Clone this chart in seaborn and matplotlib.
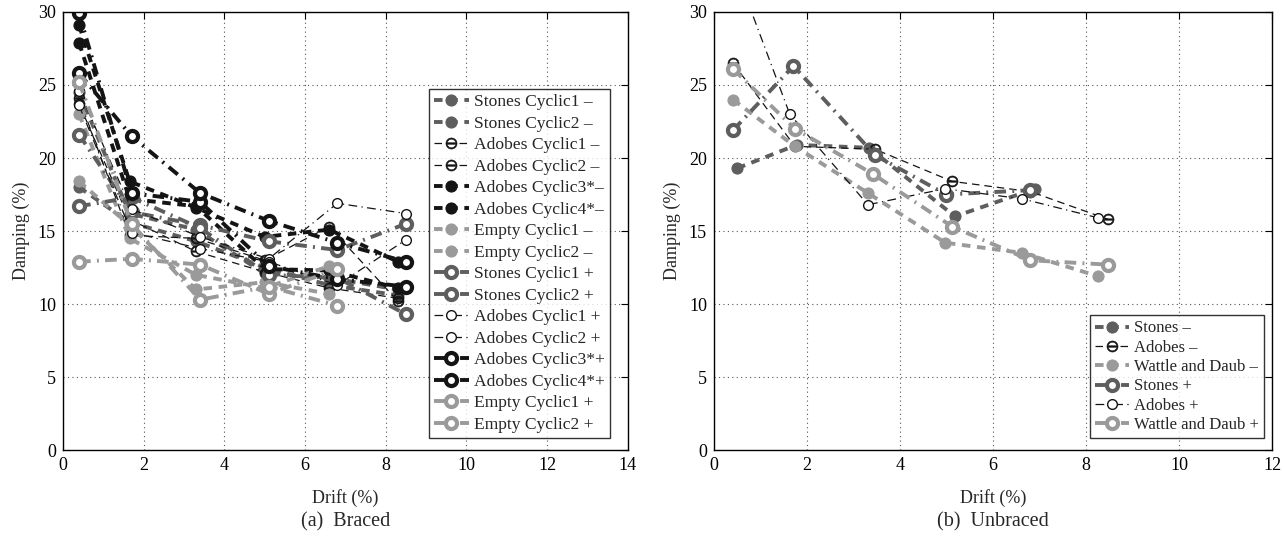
import matplotlib
matplotlib.use("Agg")
import matplotlib.pyplot as plt
import seaborn as sns
import numpy as np

sns.set_theme(style="white")
plt.rcParams['font.family'] = ['Liberation Serif', 'DejaVu Serif']
plt.rcParams['mathtext.fontset'] = 'dejavusans'

# ---------------- data: braced (left) ----------------
x_minus = [0.4, 1.65, 3.3, 5.0, 6.6, 8.3]
x_plus = [0.4, 1.7, 3.4, 5.1, 6.8, 8.5]
x_empty_minus = [0.4, 1.65, 3.3, 5.0, 6.6]
x_empty_plus = [0.4, 1.7, 3.4, 5.1, 6.8]

braced_names = [
    "Stones Cyclic1 \u2013", "Stones Cyclic2 \u2013",
    "Adobes Cyclic1 \u2013", "Adobes Cyclic2 \u2013",
    "Adobes Cyclic3*\u2013", "Adobes Cyclic4*\u2013",
    "Empty Cyclic1 \u2013", "Empty Cyclic2 \u2013",
    "Stones Cyclic1 +", "Stones Cyclic2 +",
    "Adobes Cyclic1 +", "Adobes Cyclic2 +",
    "Adobes Cyclic3*+", "Adobes Cyclic4*+",
    "Empty Cyclic1 +", "Empty Cyclic2 +",
]
stones_c1_minus = [24.5, 16.2, 15.1, 12.1, 11.8, 11.0]
stones_c2_minus = [18.0, 15.6, 14.3, 12.5, 11.3, 10.6]
adobes_c1_minus = [24.1, 14.7, 14.5, 13.0, 15.3, 10.2]
adobes_c2_minus = [23.7, 15.8, 13.6, 12.2, 11.1, 10.4]
adobes_c3_minus = [29.1, 18.4, 16.6, 14.6, 15.1, 12.9]
adobes_c4_minus = [27.9, 17.2, 16.7, 12.4, 12.3, 11.1]
empty_c1_minus = [18.4, 15.4, 11.0, 11.5, 10.7]
empty_c2_minus = [23.0, 14.5, 12.0, 11.1, 12.6]
stones_c1_plus = [21.6, 16.3, 15.4, 14.3, 13.7, 15.5]
stones_c2_plus = [16.7, 17.3, 15.2, 12.0, 11.8, 9.3]
adobes_c1_plus = [24.6, 16.5, 14.6, 13.1, 16.9, 16.2]
adobes_c2_plus = [23.6, 14.9, 13.8, 12.9, 11.3, 14.4]
adobes_c3_plus = [29.9, 17.6, 17.0, 12.6, 11.7, 11.2]
adobes_c4_plus = [25.8, 21.5, 17.6, 15.7, 14.2, 12.9]
empty_c1_plus = [12.9, 13.1, 12.7, 10.7, 12.4]
empty_c2_plus = [25.2, 15.5, 10.3, 11.2, 9.9]

# ---------------- data: unbraced (right) ----------------
unbraced_names = ["Stones \u2013", "Adobes \u2013", "Wattle and Daub \u2013",
                  "Stones +", "Adobes +", "Wattle and Daub +"]
ub_stones_minus_x = [0.5, 1.78, 3.33, 5.18, 6.9]
ub_stones_minus = [19.3, 20.9, 20.7, 16.0, 17.9]
ub_adobes_minus_x = [0.41, 1.74, 3.46, 5.12, 6.8, 8.47]
ub_adobes_minus = [26.5, 20.8, 20.6, 18.4, 17.7, 15.8]
ub_wattle_minus_x = [0.41, 1.74, 3.31, 4.97, 6.63, 8.26]
ub_wattle_minus = [24.0, 20.8, 17.6, 14.2, 13.5, 11.9]
ub_stones_plus_x = [0.41, 1.71, 3.46, 4.99, 6.8]
ub_stones_plus = [21.9, 26.3, 20.2, 17.5, 17.8]
ub_adobes_plus_x = [0.41, 1.63, 3.31, 4.97, 6.63, 8.26]
ub_adobes_plus = [33.4, 23.0, 16.8, 17.9, 17.2, 15.9]
ub_wattle_plus_x = [0.41, 1.74, 3.42, 5.12, 6.8, 8.47]
ub_wattle_plus = [26.1, 22.0, 18.9, 15.3, 13.0, 12.7]

DG = "#5e5e5e"
BK = "#141414"
LG = "#9a9a9a"

DASH = (2.2, 1.7)
DASHDOT = (3.0, 1.6, 0.5, 1.6)
THIN_DASH = (6.0, 4.0)
THIN_DASHDOT = (7.0, 3.5, 1.0, 3.5)


def style(kind):
    color, thick, minus, ring = kind
    st = dict(color=color)
    if thick:
        st.update(linewidth=2.8, dashes=DASH if minus else DASHDOT)
    else:
        st.update(linewidth=0.9, dashes=THIN_DASH if minus else THIN_DASHDOT)
    if thick and minus:
        st.update(marker="o", markersize=8, markerfacecolor=color,
                  markeredgecolor=color)
    elif thick:
        st.update(marker="o", markersize=8, markerfacecolor="white",
                  markeredgecolor=color, markeredgewidth=3.0)
    elif minus:
        st.update(marker=r"$\ominus$", markersize=8, markeredgewidth=0.4,
                  markerfacecolor=color, markeredgecolor=color)
    else:
        st.update(marker="o", markersize=7, markerfacecolor="white",
                  markeredgecolor=color, markeredgewidth=1.0)
    return st


def draw(ax, x, y, label, kind):
    st = style(kind)
    dashes = st.pop("dashes")
    sns.lineplot(x=x, y=y, ax=ax, sort=False, estimator=None, legend=False, **st)
    line = ax.lines[-1]
    line.set_dashes(dashes)
    line.set_label(label)
    line.set_clip_on(True)


fig = plt.figure(figsize=(12.84, 5.43), dpi=100)
axL = fig.add_axes([0.049, 0.171, 0.440, 0.807])
axR = fig.add_axes([0.556, 0.171, 0.435, 0.807])

braced = [
    (x_minus, stones_c1_minus, (DG, True, True, False)),
    (x_minus, stones_c2_minus, (DG, True, True, False)),
    (x_minus, adobes_c1_minus, (BK, False, True, False)),
    (x_minus, adobes_c2_minus, (BK, False, True, False)),
    (x_minus, adobes_c3_minus, (BK, True, True, False)),
    (x_minus, adobes_c4_minus, (BK, True, True, False)),
    (x_empty_minus, empty_c1_minus, (LG, True, True, False)),
    (x_empty_minus, empty_c2_minus, (LG, True, True, False)),
    (x_plus, stones_c1_plus, (DG, True, False, True)),
    (x_plus, stones_c2_plus, (DG, True, False, True)),
    (x_plus, adobes_c1_plus, (BK, False, False, True)),
    (x_plus, adobes_c2_plus, (BK, False, False, True)),
    (x_plus, adobes_c3_plus, (BK, True, False, True)),
    (x_plus, adobes_c4_plus, (BK, True, False, True)),
    (x_empty_plus, empty_c1_plus, (LG, True, False, True)),
    (x_empty_plus, empty_c2_plus, (LG, True, False, True)),
]
for (x, y, kind), name in zip(braced, braced_names):
    draw(axL, x, y, name, kind)

unbraced = [
    (ub_stones_minus_x, ub_stones_minus, (DG, True, True, False)),
    (ub_adobes_minus_x, ub_adobes_minus, (BK, False, True, False)),
    (ub_wattle_minus_x, ub_wattle_minus, (LG, True, True, False)),
    (ub_stones_plus_x, ub_stones_plus, (DG, True, False, True)),
    (ub_adobes_plus_x, ub_adobes_plus, (BK, False, False, True)),
    (ub_wattle_plus_x, ub_wattle_plus, (LG, True, False, True)),
]
for (x, y, kind), name in zip(unbraced, unbraced_names):
    draw(axR, x, y, name, kind)

for ax, xmax, cap in [(axL, 14, "(a)  Braced"), (axR, 12, "(b)  Unbraced")]:
    ax.set_xlim(0, xmax)
    ax.set_ylim(0, 30)
    ax.set_xticks(np.arange(0, xmax + 1, 2))
    ax.set_yticks(np.arange(0, 31, 5))
    ax.grid(True, linestyle=(0, (1, 3)), color="#555555", linewidth=0.8)
    ax.tick_params(direction="in", top=True, right=True, length=5,
                   labelsize=13, colors="black", width=0.8, pad=5)
    for s in ax.spines.values():
        s.set_color("black")
        s.set_linewidth(1.0)
    ax.set_xlabel("Drift (%)", fontsize=13, labelpad=11)
    ax.set_ylabel("Damping (%)", fontsize=13, labelpad=6)
    ax.text(0.5, -0.163, cap, transform=ax.transAxes, ha="center", va="center",
            fontsize=14.5)

legL = axL.legend(loc="lower right", bbox_to_anchor=(0.975, 0.02), fontsize=12.6,
                  frameon=True, fancybox=False, edgecolor="black",
                  handlelength=2.0, handletextpad=0.3, labelspacing=0.3,
                  borderpad=0.3, borderaxespad=0.2)
legL.get_frame().set_linewidth(1.0)
legR = axR.legend(loc="lower right", bbox_to_anchor=(0.99, 0.02), fontsize=12,
                  frameon=True, fancybox=False, edgecolor="black",
                  handlelength=2.0, handletextpad=0.3, labelspacing=0.2,
                  borderpad=0.3, borderaxespad=0.2)
legR.get_frame().set_linewidth(1.0)

fig.savefig("out.png", dpi=100, facecolor="white")
